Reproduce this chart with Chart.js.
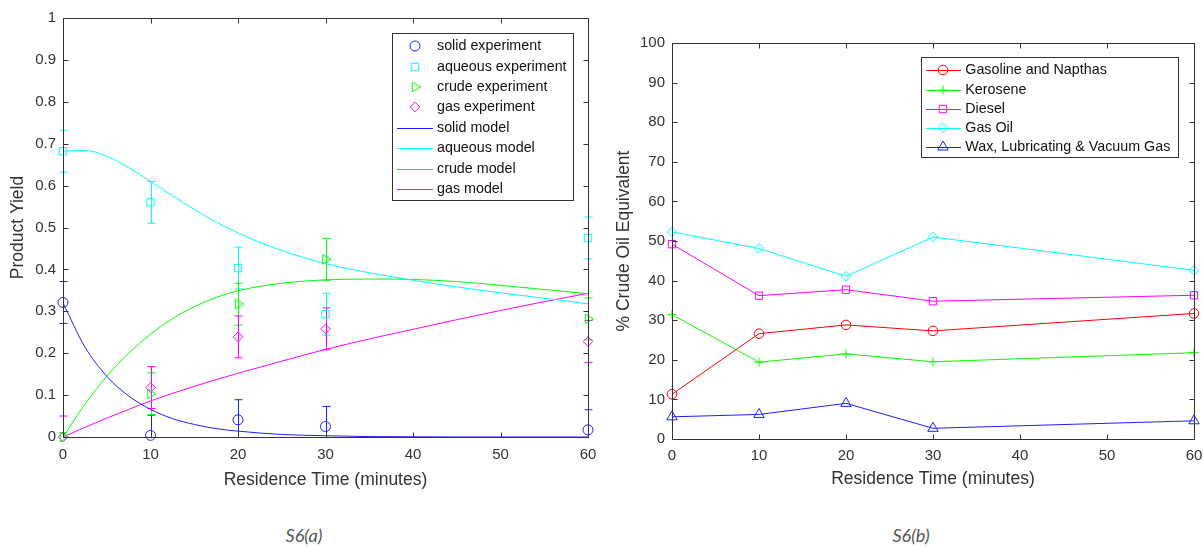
<!DOCTYPE html>
<html>
<head>
<meta charset="utf-8">
<script src="https://cdn.jsdelivr.net/npm/chart.js@4.4.1/dist/chart.umd.min.js"></script>
<style>
  body { margin: 0; background: #fff; width: 1203px; height: 547px; position: relative; overflow: hidden; }
  .box { position: absolute; top: 0; height: 500px; }
  #leftBox { left: 0; width: 600px; }
  #rightBox { left: 600px; width: 603px; }
  .caption { position: absolute; top: 523px; width: 100px; text-align: center; font: italic 18px Lato, "Open Sans", sans-serif; color: #555; line-height: 24px; }
</style>
</head>
<body>
<div class="box" id="leftBox"><canvas id="yieldChart"></canvas></div>
<div class="box" id="rightBox"><canvas id="crudeChart"></canvas></div>
<div class="caption" style="left:254px">S6(a)</div>
<div class="caption" style="left:861px">S6(b)</div>
<script>
// ---- S6(a): product yield, experiment vs model ----
const times = [0, 10, 20, 30, 60];
const solidExp = [0.321, 0.004, 0.041, 0.025, 0.017];
const solidErr = [0.05, 0.048, 0.048, 0.048, 0.048];
const aqueousExp = [0.682, 0.560, 0.403, 0.293, 0.475];
const aqueousErr = [0.05, 0.05, 0.05, 0.05, 0.05];
const crudeExp = [0.0, 0.103, 0.317, 0.424, 0.282];
const crudeErr = [0.01, 0.05, 0.05, 0.05, 0.05];
const gasExp = [0.0, 0.118, 0.239, 0.258, 0.228];
const gasErr = [0.05, 0.05, 0.05, 0.05, 0.05];

const modelTimes = [0, 2.5, 5, 7.5, 10, 12.5, 15, 17.5, 20, 25, 30, 35, 40, 45, 50, 55, 60];
const solidModel = [0.320, 0.215, 0.145, 0.098, 0.066, 0.044, 0.030, 0.020, 0.014, 0.006, 0.003, 0.001, 0.0005, 0, 0, 0, 0];
const aqueousModel = [0.682, 0.684, 0.670, 0.643, 0.610, 0.576, 0.543, 0.513, 0.487, 0.445, 0.414, 0.392, 0.374, 0.358, 0.344, 0.331, 0.318];
const crudeModel = [0, 0.078, 0.145, 0.200, 0.245, 0.282, 0.311, 0.333, 0.349, 0.367, 0.375, 0.377, 0.376, 0.371, 0.362, 0.352, 0.342];
const gasModel = [0, 0.023, 0.045, 0.066, 0.086, 0.104, 0.121, 0.137, 0.152, 0.181, 0.209, 0.234, 0.257, 0.280, 0.302, 0.323, 0.343];

// ---- S6(b): crude oil fractions ----
const fractionTimes = [0, 10, 20, 30, 60];
const gasoline = [11.3, 26.6, 28.8, 27.3, 31.7];
const kerosene = [31.4, 19.4, 21.5, 19.5, 21.8];
const diesel = [49.2, 36.2, 37.7, 34.8, 36.3];
const gasOil = [52.3, 48.1, 41.1, 51.0, 42.6];
const wax = [5.6, 6.2, 9.0, 2.7, 4.6];

// tick labels
const timeTicks = [0, 10, 20, 30, 40, 50, 60];
const yieldTicks = [0, 0.1, 0.2, 0.3, 0.4, 0.5, 0.6, 0.7, 0.8, 0.9, 1];
const percentTicks = [0, 10, 20, 30, 40, 50, 60, 70, 80, 90, 100];

const FONT = '"Liberation Sans", Arial, Helvetica, sans-serif';
const AXIS = '#333';
const BLUE = '#1f1fff', CYAN = '#00ffff', GREEN = '#00ff00', MAGENTA = '#ff00ff', RED = '#ff0000';

Chart.defaults.font.family = FONT;
Chart.defaults.color = AXIS;

const pts = (xs, ys) => xs.map((x, i) => ({ x: x, y: ys[i] }));

// box round the plot with inward ticks on all four sides, like matlab
const matlabBox = {
  id: 'matlabBox',
  afterDatasetsDraw(chart) {
    const { ctx, chartArea: a, scales: { x, y } } = chart;
    const L = Math.round(a.left) + 0.5, R = Math.round(a.right) + 0.5;
    const T = Math.round(a.top) + 0.5, B = Math.round(a.bottom) + 0.5;
    ctx.save();
    ctx.strokeStyle = AXIS;
    ctx.lineWidth = 1;
    ctx.beginPath();
    ctx.rect(L, T, R - L, B - T);
    x.ticks.forEach(t => {
      const px = Math.round(x.getPixelForValue(t.value)) + 0.5;
      ctx.moveTo(px, B); ctx.lineTo(px, B - 5);
      ctx.moveTo(px, T); ctx.lineTo(px, T + 5);
    });
    y.ticks.forEach(t => {
      const py = Math.round(y.getPixelForValue(t.value)) + 0.5;
      ctx.moveTo(L, py); ctx.lineTo(L + 5, py);
      ctx.moveTo(R, py); ctx.lineTo(R - 5, py);
    });
    ctx.stroke();
    ctx.restore();
  }
};

// vertical error bars with caps
const errorBars = {
  id: 'errorBars',
  beforeDatasetsDraw(chart) {
    const { ctx, chartArea: a, scales: { y } } = chart;
    ctx.save();
    ctx.beginPath();
    ctx.rect(a.left - 10, a.top, a.right - a.left + 20, a.bottom - a.top);
    ctx.clip();
    chart.data.datasets.forEach((d, i) => {
      if (!d.errors) return;
      const meta = chart.getDatasetMeta(i);
      ctx.strokeStyle = d.borderColor;
      ctx.lineWidth = 1;
      ctx.beginPath();
      meta.data.forEach((p, j) => {
        const v = d.data[j].y, e = d.errors[j];
        const top = y.getPixelForValue(v + e), bot = y.getPixelForValue(v - e);
        const px = Math.round(p.x) + 0.5;
        ctx.moveTo(px, top); ctx.lineTo(px, bot);
        ctx.moveTo(px - 4, top); ctx.lineTo(px + 4, top);
        ctx.moveTo(px - 4, bot); ctx.lineTo(px + 4, bot);
      });
      ctx.stroke();
    });
    ctx.restore();
  }
};

// legend box inside the top right corner
const boxLegend = {
  id: 'boxLegend',
  afterDraw(chart, args, o) {
    const { ctx, chartArea: a } = chart;
    const items = chart.data.datasets;
    ctx.save();
    ctx.font = o.fontSize + 'px ' + FONT;
    const textW = Math.max(...items.map(d => ctx.measureText(d.label).width));
    const w = Math.round(o.textX + textW + o.padRight);
    const h = Math.round(o.height);
    const left = Math.round(a.right - o.right - w), top = Math.round(a.top + o.top);
    ctx.fillStyle = '#fff';
    ctx.fillRect(left, top, w, h);
    ctx.strokeStyle = AXIS;
    ctx.lineWidth = 1;
    ctx.strokeRect(left + 0.5, top + 0.5, w, h);
    items.forEach((d, i) => {
      const cy = Math.round(top + o.firstRow + i * o.rowH);
      ctx.strokeStyle = d.borderColor;
      ctx.lineWidth = 1;
      if (d.showLine) {
        ctx.beginPath();
        ctx.moveTo(left + o.lineX0, cy + 0.5);
        ctx.lineTo(left + o.lineX1, cy + 0.5);
        ctx.stroke();
      }
      if (d.pointRadius > 0) {
        ctx.fillStyle = 'rgba(0,0,0,0)';
        Chart.helpers.drawPoint(ctx, {
          pointStyle: d.pointStyle, radius: d.pointRadius,
          rotation: d.pointRotation || 0, borderWidth: 1
        }, left + o.markX, cy);
      }
      ctx.fillStyle = '#111';
      ctx.textBaseline = 'middle';
      ctx.textAlign = 'left';
      ctx.fillText(d.label, left + o.textX, cy);
    });
    ctx.restore();
  }
};

function axes(yTicks, yTitle, c) {
  return {
    x: {
      type: 'linear', min: 0, max: 60,
      grid: { display: false, drawTicks: false }, border: { display: false },
      afterBuildTicks: s => { s.ticks = timeTicks.map(v => ({ value: v })); },
      ticks: { padding: c.xPad, font: { size: 15 }, maxRotation: 0, autoSkip: false, callback: v => String(v) },
      title: { display: true, text: 'Residence Time (minutes)', font: { size: 17.5 }, padding: { top: 0, bottom: c.xTitlePad } },
      afterFit: s => { s.height = c.xHeight; s.paddingLeft = 0; s.paddingRight = 0; }
    },
    y: {
      type: 'linear', min: yTicks[0], max: yTicks[yTicks.length - 1],
      grid: { display: false, drawTicks: false }, border: { display: false },
      afterBuildTicks: s => { s.ticks = yTicks.map(v => ({ value: v })); },
      ticks: { padding: c.yPad, font: { size: 15 }, autoSkip: false, callback: v => String(v) },
      title: { display: true, text: yTitle, font: { size: 17.5 }, padding: { top: c.yTitlePad, bottom: 0 } },
      afterFit: s => { s.width = c.yWidth; s.paddingTop = 0; s.paddingBottom = 0; }
    }
  };
}

function expSet(label, ys, errs, color, style, radius, rotation) {
  return {
    label: label, data: pts(times, ys), errors: errs, showLine: false, clip: false,
    borderColor: color, backgroundColor: 'rgba(0,0,0,0)',
    pointStyle: style, pointRadius: radius, pointRotation: rotation || 0, pointBorderWidth: 1
  };
}

function modelSet(label, ys, color) {
  return {
    label: label, data: pts(modelTimes, ys), showLine: true,
    borderColor: color, borderWidth: 1, pointRadius: 0,
    cubicInterpolationMode: 'monotone'
  };
}

function fractionSet(label, ys, color, style, radius) {
  return {
    label: label, data: pts(fractionTimes, ys), showLine: true, clip: false,
    borderColor: color, borderWidth: 1, backgroundColor: 'rgba(0,0,0,0)',
    pointStyle: style, pointRadius: radius, pointBorderWidth: 1
  };
}

const common = {
  responsive: true,
  maintainAspectRatio: false,
  animation: false,
  events: []
};

new Chart(document.getElementById('yieldChart'), {
  type: 'scatter',
  data: {
    datasets: [
      expSet('solid experiment', solidExp, solidErr, BLUE, 'circle', 5),
      expSet('aqueous experiment', aqueousExp, aqueousErr, CYAN, 'rect', 5.2),
      expSet('crude experiment', crudeExp, crudeErr, GREEN, 'triangle', 5.5, 90),
      expSet('gas experiment', gasExp, gasErr, MAGENTA, 'rectRot', 4.8),
      modelSet('solid model', solidModel, BLUE),
      modelSet('aqueous model', aqueousModel, CYAN),
      modelSet('crude model', crudeModel, GREEN),
      modelSet('gas model', gasModel, MAGENTA)
    ]
  },
  options: Object.assign({}, common, {
    layout: { padding: { left: 0, right: 12, top: 18, bottom: 0 } },
    scales: axes(yieldTicks, 'Product Yield', { xPad: 9, xTitlePad: 9.5, xHeight: 63, yPad: 7, yTitlePad: 7.5, yWidth: 63 }),
    plugins: {
      legend: { display: false },
      tooltip: { enabled: false },
      boxLegend: { fontSize: 14.3, top: 15, right: 15, height: 167, firstRow: 13.4, rowH: 20.35, lineX0: 5, lineX1: 41, markX: 23, textX: 45, padRight: 6 }
    }
  }),
  plugins: [errorBars, matlabBox, boxLegend]
});

new Chart(document.getElementById('crudeChart'), {
  type: 'scatter',
  data: {
    datasets: [
      fractionSet('Gasoline and Napthas', gasoline, RED, 'circle', 4.8),
      fractionSet('Kerosene', kerosene, GREEN, 'cross', 4.5),
      fractionSet('Diesel', diesel, MAGENTA, 'rect', 5.2),
      fractionSet('Gas Oil', gasOil, CYAN, 'rectRot', 4.8),
      fractionSet('Wax, Lubricating & Vacuum Gas', wax, BLUE, 'triangle', 6)
    ]
  },
  options: Object.assign({}, common, {
    layout: { padding: { left: 0, right: 9, top: 43, bottom: 0 } },
    scales: axes(percentTicks, '% Crude Oil Equivalent', { xPad: 7.6, xTitlePad: 10.2, xHeight: 61, yPad: 7, yTitlePad: 13.5, yWidth: 72 }),
    plugins: {
      legend: { display: false },
      tooltip: { enabled: false },
      boxLegend: { fontSize: 14.3, top: 14, right: 15.6, height: 100, firstRow: 13.4, rowH: 19.1, lineX0: 5, lineX1: 40, markX: 22, textX: 44.3, padRight: 8 }
    }
  }),
  plugins: [matlabBox, boxLegend]
});
</script>
</body>
</html>
